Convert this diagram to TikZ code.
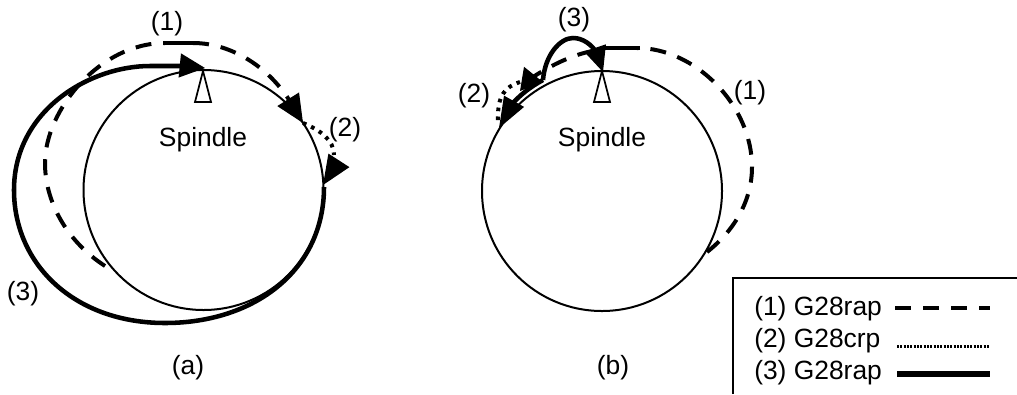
\documentclass[tikz,border=0pt]{standalone}
\usepackage{fontspec}
\setmainfont{Liberation Sans}
\usetikzlibrary{arrows.meta}

\begin{document}
\begin{tikzpicture}[
    x=0.75pt, y=-0.75pt,
    txt/.style={font=\fontsize{19.8}{24}\selectfont, anchor=base, inner sep=0pt},
    spindle/.style={draw=black, line width=1.5pt},
    pointer/.style={draw=black, fill=white, line width=1.3pt, line join=miter},
    rapid/.style={draw=black, line width=3pt, dash pattern=on 12pt off 9pt},
    rapidbar/.style={draw=black, line width=3pt},
    creep/.style={draw=black, line width=3pt, dash pattern=on 2.7pt off 4pt},
    feed/.style={draw=black, line width=3.4pt},
    head/.style 2 args={-{Triangle[length=#1,width=#2]}, draw=black, line width=1pt}
]
    \useasboundingbox (0,0) rectangle (1017,394);
    \fill[white] (0,0) rectangle (1017,394);

    % (a)
    \draw[spindle] (203.5,190) circle (90pt);
    \draw[pointer] (203,71) -- (195,102) -- (211,102) -- cycle;
    \draw[rapid] (105,266) .. controls (65,240) and (45,200) .. (45,163) .. controls (45,110) and (100,43) .. (165,43);
    \draw[rapidbar] (163,43) -- (193,43);
    \draw[rapid] (193,43) .. controls (232,43) and (270,68) .. (291,103);
    \draw[head={21pt}{19pt}] (288,99) -- (303,123);
    \draw[creep] (303,123) .. controls (320,130) and (334,140) .. (334,155);
    \draw[head={22pt}{18.5pt}] (338.5,161) -- (323,185);
    \draw[feed] (324,187) .. controls (324,270) and (255,323) .. (165,323) .. controls (75,323) and (14,265) .. (14,190) .. controls (14,110) and (90,66) .. (150,66) -- (182,66);
    \draw[head={19pt}{18pt}] (180,65.5) -- (205,68);
    \node[txt] (labelAa) at (167,30) {(1)};
    \node[txt] (labelAb) at (345,136.5) {(2)};
    \node[txt] (labelAc) at (23,300) {(3)};
    \node[txt] (spindleA) at (203,146) {Spindle};
    \node[txt] (captionA) at (188,374.5) {(a)};

    % (b)
    \draw[spindle] (602,191) circle (90pt);
    \draw[pointer] (602,71) -- (594,102) -- (610,102) -- cycle;
    \draw[rapid] (707,252) .. controls (735,230) and (752,200) .. (752,167) .. controls (752,105) and (695,48) .. (637,48);
    \draw[rapidbar] (640,48) -- (605,48);
    \draw[rapid] (593,51) .. controls (575,54) and (553,64) .. (533,77);
    \draw[head={16pt}{18pt}] (533,75) -- (520,91);
    \draw[creep] (520,82) .. controls (505,87) and (497,95) .. (498,122);
    \draw[head={23pt}{17pt}] (512.5,104) -- (499,128);
    \draw[feed] (510,106) .. controls (520,95) and (530,87) .. (543,80);
    \draw[feed] (543,80) .. controls (545,55) and (560,38) .. (573,38) .. controls (583,38) and (592,45) .. (596,52);
    \draw[head={19pt}{17pt}] (595,48) -- (603,72);
    \node[txt] (labelBa) at (750,99.5) {(1)};
    \node[txt] (labelBb) at (474,102.5) {(2)};
    \node[txt] (labelBc) at (574,26.5) {(3)};
    \node[txt] (spindleB) at (602,146) {Spindle};
    \node[txt] (captionB) at (613,374.5) {(b)};

    % legend
    \draw[line width=1.5pt] (733,394) -- (733,278) -- (1017,278);
    \node[txt, anchor=base west] (legA) at (754,315) {(1) G28rap};
    \node[txt, anchor=base west] (legB) at (754,347) {(2) G28crp};
    \node[txt, anchor=base west] (legC) at (754,379) {(3) G28rap};
    \draw[draw=black, line width=3.6pt, dash pattern=on 12pt off 9pt] (895,308) -- (990,308);
    \draw[draw=black, line width=2.2pt, dash pattern=on 1.5pt off 1pt] (897,346.5) -- (990,346.5);
    \draw[draw=black, line width=3.9pt] (897,374) -- (990,374);
\end{tikzpicture}
\end{document}
